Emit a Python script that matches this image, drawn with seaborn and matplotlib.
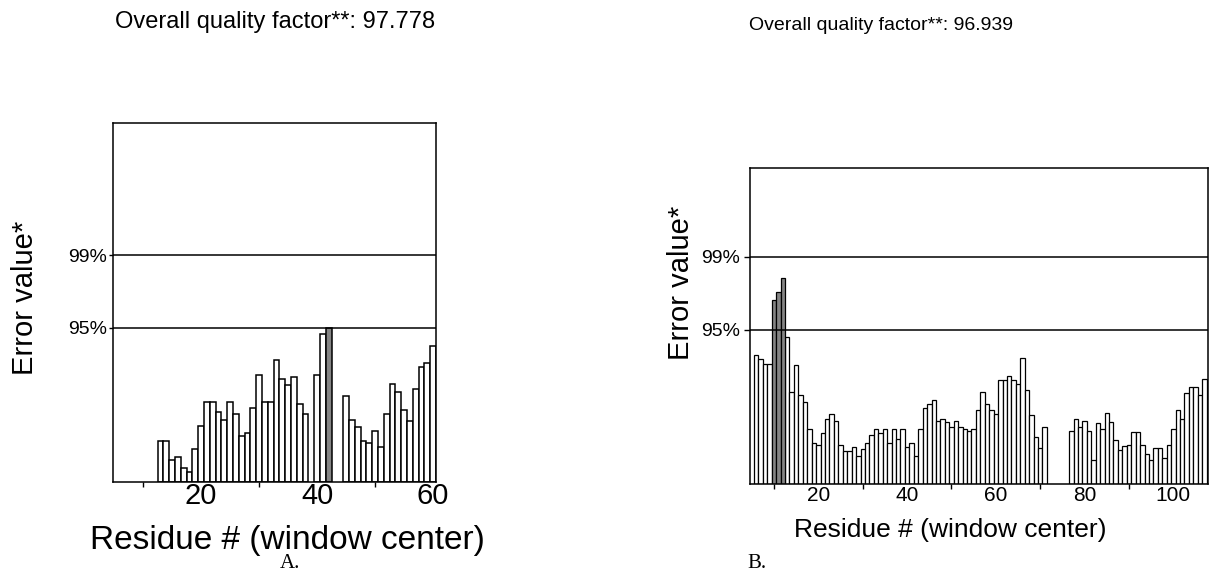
import matplotlib

matplotlib.use("Agg")
import matplotlib.pyplot as plt
import numpy as np
import pandas as pd
import seaborn as sns

# error value of each 9-residue window
# (residues with no window are left out, so they show up as gaps)
residues_a = list(range(13, 39)) + [40, 41, 42] + list(range(45, 61))
errors_a = [
    41, 41, 22, 25, 14, 10, 33, 56, 80, 80, 70, 62, 80, 68, 46, 49, 74, 107,
    80, 80, 122, 103, 97, 105, 78, 68,
    107, 148, 154,
    86, 62, 55, 41, 39, 51, 35, 68, 98, 90, 72, 61, 93, 115, 119, 136,
]

residues_b = list(range(6, 72)) + list(range(77, 108))
errors_b = [
    129, 125, 120, 120, 184, 192, 206,
    147, 92, 119, 89, 82, 55, 41, 39, 51, 65,
    70, 63, 39, 33, 33, 37, 28, 35, 41, 49,
    55, 51, 55, 41, 55, 45, 55, 37, 41, 28,
    55, 76, 80, 84, 63, 65, 62, 57, 63, 57,
    55, 53, 55, 74, 92, 80, 74, 70, 104, 104,
    108, 104, 100, 126, 94, 69, 47, 36, 57,
    53, 65, 57, 63, 53, 24, 61, 55, 71, 62,
    44, 34, 38, 39, 52, 52, 39, 30, 24, 36,
    36, 26, 39, 55, 74, 65, 91, 97, 97, 89, 105,
]

ERR_95 = 154
ERR_99 = 227
threshold_labels = ["95%", "99%"]

quality_a = "Overall quality factor**: 97.778"
quality_b = "Overall quality factor**: 96.939"
x_label = "Residue # (window center)"
y_label = "Error value*"

ticks_a = [20, 40, 60]
minor_a = [10, 30, 50]
ticks_b = [20, 40, 60, 80, 100]
minor_b = [10, 30, 50, 70, 90]

REGULAR = ["Liberation Sans", "DejaVu Sans"]
SERIF = ["Liberation Serif", "DejaVu Serif"]

sns.set_theme(style="ticks")
plt.rcParams["font.family"] = REGULAR

W, H = 1213, 578
fig = plt.figure(figsize=(W / 100, H / 100), dpi=100)


def px_axes(left, top, right, bottom):
    return fig.add_axes([left / W, 1 - bottom / H, (right - left) / W, (bottom - top) / H])


def px_text(x, y, text, **kwargs):
    fig.text(x / W, 1 - y / H, text, ha="center", va="center", color="black", **kwargs)


def draw_panel(ax, residues, errors, xlim, ymax, ticks, minor, xsize, ysize, xpad, ylen, ypad, lw):
    frame = pd.DataFrame({"residue": residues, "error": errors})
    frame["band"] = np.where(frame["error"] >= ERR_95, "over", "ok")
    sns.barplot(
        data=frame, x="residue", y="error", hue="band",
        palette={"ok": "white", "over": "#858585"},
        native_scale=True, dodge=False, width=1.0, saturation=1,
        edgecolor="black", linewidth=lw, legend=False, ax=ax,
    )
    ax.axhline(ERR_95, color="black", lw=1.1)
    ax.axhline(ERR_99, color="black", lw=1.1)
    ax.set_xlim(*xlim)
    ax.set_ylim(0, ymax)
    ax.set_xticks(ticks, [str(t) for t in ticks], fontsize=xsize)
    ax.set_xticks(minor, minor=True)
    ax.set_yticks([ERR_95, ERR_99], threshold_labels, fontsize=ysize)
    ax.tick_params(axis="x", which="major", length=0, pad=xpad, colors="black")
    ax.tick_params(axis="x", which="minor", length=3.5, width=1, color="black", direction="out")
    ax.tick_params(axis="y", length=ylen, width=1, pad=ypad, colors="black", direction="out")
    ax.set_xlabel("")
    ax.set_ylabel("")
    for spine in ax.spines.values():
        spine.set_color("black")
        spine.set_linewidth(1.1)


ax_a = px_axes(113, 123, 436, 482)
draw_panel(ax_a, residues_a, errors_a, (4.8, 60.5), 359, ticks_a, minor_a,
           21, 14, 0, 3, 1, 1.1)

ax_b = px_axes(750, 168, 1208, 483.5)
draw_panel(ax_b, residues_b, errors_b, (4.6, 107.8), 315.5, ticks_b, minor_b,
           15, 14, 2, 4, 3, 0.9)

px_text(275, 22, quality_a, fontsize=17)
px_text(881, 25, quality_b, fontsize=14)
px_text(25, 298, y_label, fontsize=21, rotation=90)
px_text(681, 283, y_label, fontsize=21, rotation=90)
px_text(287, 540, x_label, fontsize=24)
px_text(950, 530, x_label, fontsize=19)
px_text(290, 563, "A.", fontsize=15, family=SERIF)
px_text(757, 563, "B.", fontsize=15, family=SERIF)

fig.savefig("out.png", dpi=100, facecolor="white")
plt.close(fig)
